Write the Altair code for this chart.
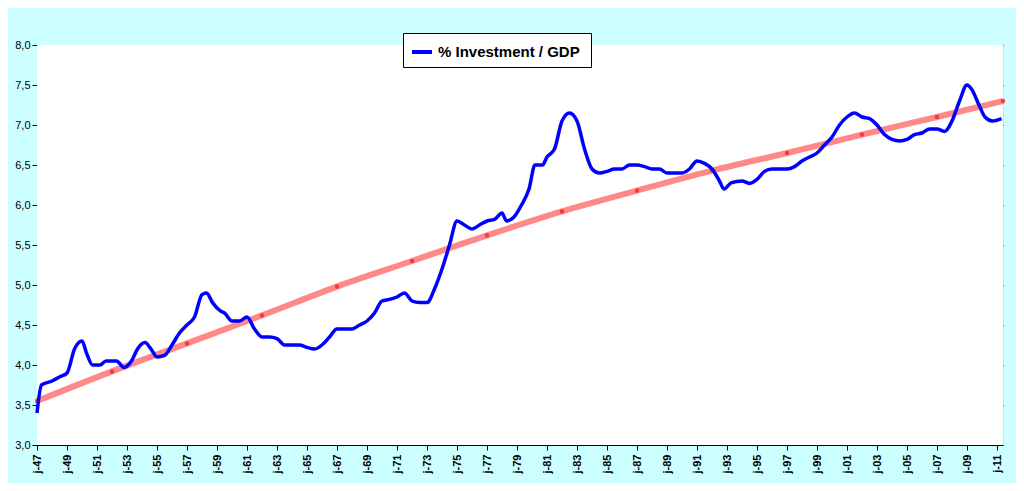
import altair as alt
import pandas as pd

years = [1947.0, 1947.3, 1948.0, 1948.5, 1949.0, 1949.5, 1950.0, 1950.3, 1950.7, 1951.2,
         1951.6, 1952.3, 1952.8, 1953.3, 1953.7, 1954.2, 1954.6, 1955.0, 1955.5, 1956.0,
         1956.5, 1957.0, 1957.5, 1958.0, 1958.3, 1958.7, 1959.2, 1959.5, 1960.0, 1960.5,
         1961.0, 1961.5, 1962.0, 1962.5, 1963.0, 1963.5, 1964.0, 1964.5, 1965.0, 1965.5,
         1966.0, 1966.5, 1967.0, 1967.5, 1968.0, 1968.5, 1969.0, 1969.5, 1970.0, 1970.5,
         1971.0, 1971.5, 1972.0, 1972.5, 1973.0, 1973.5, 1974.0, 1974.5, 1975.0, 1975.5,
         1976.0, 1976.5, 1977.0, 1977.5, 1978.0, 1978.3, 1978.8, 1979.3, 1979.8, 1980.2,
         1980.7, 1981.0, 1981.5, 1982.0, 1982.5, 1983.0, 1983.5, 1984.0, 1984.5, 1985.0,
         1985.5, 1986.0, 1986.5, 1987.0, 1987.5, 1988.0, 1988.5, 1989.0, 1989.5, 1990.0,
         1990.5, 1991.0, 1991.5, 1992.0, 1992.5, 1992.8, 1993.3, 1994.0, 1994.5, 1995.0,
         1995.5, 1996.0, 1996.5, 1997.0, 1997.5, 1998.0, 1998.5, 1999.0, 1999.5, 2000.0,
         2000.5, 2001.0, 2001.5, 2002.0, 2002.5, 2003.0, 2003.5, 2004.0, 2004.5, 2005.0,
         2005.5, 2006.0, 2006.5, 2007.0, 2007.5, 2008.0, 2008.5, 2009.0, 2009.3, 2009.8,
         2010.2, 2010.7, 2011.3]
investment = [3.4, 3.75, 3.8, 3.85, 3.9, 4.2, 4.3, 4.15, 4.0, 4.0,
              4.05, 4.05, 3.97, 4.05, 4.2, 4.28, 4.2, 4.1, 4.12, 4.25,
              4.4, 4.5, 4.6, 4.88, 4.9, 4.78, 4.68, 4.65, 4.55, 4.55,
              4.6, 4.45, 4.35, 4.35, 4.33, 4.25, 4.25, 4.25, 4.22, 4.2,
              4.25, 4.35, 4.45, 4.45, 4.45, 4.5, 4.55, 4.65, 4.8, 4.82,
              4.85, 4.9, 4.8, 4.78, 4.78, 4.95, 5.2, 5.5, 5.8, 5.75,
              5.7, 5.75, 5.8, 5.82, 5.9, 5.8, 5.85, 6.0, 6.2, 6.5,
              6.5, 6.6, 6.7, 7.05, 7.15, 7.05, 6.7, 6.45, 6.4, 6.42,
              6.45, 6.45, 6.5, 6.5, 6.48, 6.45, 6.45, 6.4, 6.4, 6.4,
              6.45, 6.55, 6.52, 6.45, 6.3, 6.2, 6.28, 6.3, 6.27, 6.32,
              6.42, 6.45, 6.45, 6.45, 6.48, 6.55, 6.6, 6.65, 6.75, 6.85,
              7.0, 7.1, 7.15, 7.1, 7.08, 7.0, 6.88, 6.82, 6.8, 6.82,
              6.88, 6.9, 6.95, 6.95, 6.92, 7.05, 7.3, 7.5, 7.45, 7.25,
              7.1, 7.05, 7.08]

trend_years = [1947, 1952, 1957, 1962, 1967, 1972, 1977, 1982, 1987, 1992, 1997, 2002, 2007, 2011.4]
trend = [3.55, 3.92, 4.27, 4.62, 4.98, 5.3, 5.62, 5.92, 6.18, 6.43, 6.65, 6.88, 7.1, 7.3]

tick_years = list(range(1947, 2012, 2))

inv_df = pd.DataFrame({"year": years, "value": investment, "series": "% Investment  / GDP"})
trend_df = pd.DataFrame({"year": trend_years, "value": trend})

x = alt.X("year:Q", scale=alt.Scale(domain=[1947, 2011.4], nice=False, zero=False),
          axis=alt.Axis(values=tick_years, title=None, grid=False, labelAngle=270,
                        labelExpr="'j-' + substring(toString(datum.value), 2, 4)",
                        labelFontWeight="bold", labelFontSize=11, labelColor="black",
                        domainColor="black", tickColor="black", labelAlign="right",
                        labelBaseline="middle", labelPadding=4))
y = alt.Y("value:Q", scale=alt.Scale(domain=[3, 8], nice=False, zero=False),
          axis=alt.Axis(values=[3, 3.5, 4, 4.5, 5, 5.5, 6, 6.5, 7, 7.5, 8], title=None,
                        labelExpr="replace(format(datum.value, '.1f'), '.', ',')",
                        gridColor="#333333", gridWidth=1, labelColor="black",
                        labelFontSize=11, domainColor="black", tickColor="black"))

# white plot area
plot_bg = alt.Chart(trend_df.head(1)).mark_rect(color="white").encode(
    x=alt.value(0), x2=alt.value(966), y=alt.value(0), y2=alt.value(400)
)

trend_line = alt.Chart(trend_df).mark_line(
    color="#FF5555", opacity=0.7, strokeWidth=6, interpolate="monotone"
).encode(x=x, y=y)

trend_pts = alt.Chart(trend_df).mark_point(
    filled=True, color="#FF2222", size=20, opacity=0.8
).encode(x=x, y=y)

inv_line = alt.Chart(inv_df).mark_line(
    strokeWidth=3.5, interpolate="monotone"
).encode(
    x=x, y=y,
    color=alt.Color("series:N", scale=alt.Scale(range=["#0000FF"]),
                    legend=alt.Legend(title=None, orient="none", legendX=366, legendY=-12,
                                      symbolType="stroke", symbolStrokeWidth=4, symbolSize=400,
                                      labelFontSize=15, labelFontWeight="bold", labelColor="black",
                                      fillColor="white", strokeColor="black", padding=7,
                                      labelLimit=400)),
)

chart = alt.layer(plot_bg, trend_line, trend_pts, inv_line).properties(
    width=966, height=400, background="#CCFFFF",
    padding={"left": 29, "top": 37, "right": 13, "bottom": 38},
    autosize=alt.AutoSizeParams(type="none"),
).configure_view(stroke="black").configure(font="Liberation Sans")

chart.save("out.html", embed_options={"renderer": "svg", "actions": False})
